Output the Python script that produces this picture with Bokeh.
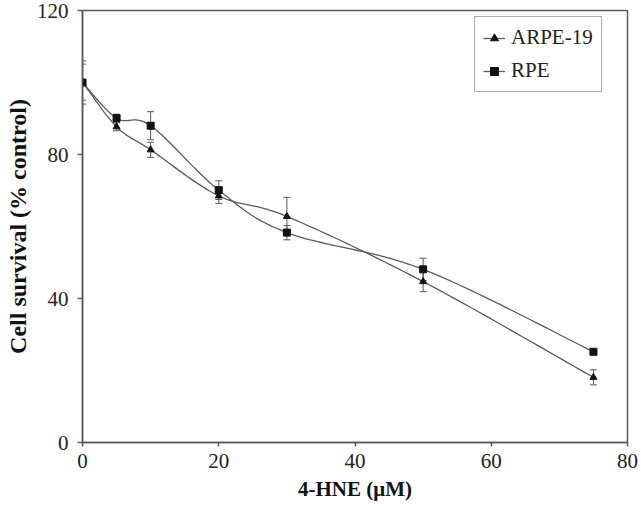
from bokeh.plotting import figure
from bokeh.models import (Legend, LegendItem, Whisker, ColumnDataSource, TeeHead,
                          FixedTicker, Range1d)
from bokeh.embed import file_html
from bokeh.resources import INLINE
import numpy as np

# ---- data ----
conc = [0, 5, 10, 20, 30, 50, 75]
arpe19 = [100.1, 87.7, 81.3, 68.5, 62.8, 44.7, 18.1]
arpe19_err = [5.0, 1.1, 2.1, 2.1, 5.3, 2.8, 2.1]
rpe = [100.0, 90.1, 88.0, 70.1, 58.3, 48.1, 25.2]
rpe_err = [6.0, 1.1, 3.9, 2.6, 2.0, 3.1, 0.3]
x_ticks = [0, 20, 40, 60, 80]
y_ticks = [0, 40, 80, 120]

FONT = "Liberation Serif"
LINE = "#5a5a5a"


def smooth(xs, ys, n=24):
    """Catmull-Rom style cubic Bezier through the data points (like a smoothed line)."""
    P = np.column_stack([xs, ys]).astype(float)
    out = [P[0]]
    for i in range(len(P) - 1):
        p0 = P[i - 1] if i > 0 else P[i]
        p1, p2 = P[i], P[i + 1]
        p3 = P[i + 2] if i + 2 < len(P) else P[i + 1]
        c1 = p1 + (p2 - p0) / 6.0
        c2 = p2 - (p3 - p1) / 6.0
        t = np.linspace(0, 1, n)[1:, None]
        seg = ((1 - t) ** 3) * p1 + 3 * ((1 - t) ** 2) * t * c1 + 3 * (1 - t) * t ** 2 * c2 + t ** 3 * p2
        out.extend(seg)
    out = np.array(out)
    return out[:, 0], out[:, 1]


p = figure(width=640, height=506, output_backend="svg", toolbar_location=None,
           x_range=Range1d(0, 80), y_range=Range1d(0, 120),
           min_border_left=82, min_border_right=13, min_border_top=10, min_border_bottom=64)

p.background_fill_color = "white"
p.border_fill_color = "white"
p.outline_line_color = LINE
p.outline_line_width = 1.5
p.grid.visible = False

for ax in (p.xaxis[0], p.yaxis[0]):
    ax.axis_line_color = LINE
    ax.axis_line_width = 1.5
    ax.major_tick_line_color = LINE
    ax.major_tick_line_width = 1.5
    ax.major_tick_in = 0
    ax.minor_tick_line_color = None
    ax.major_label_text_font = FONT
    ax.major_label_text_color = "#222222"
    ax.axis_label_text_font = FONT
    ax.axis_label_text_font_style = "bold"
    ax.axis_label_text_color = "#111111"

p.xaxis.ticker = FixedTicker(ticks=x_ticks)
p.yaxis.ticker = FixedTicker(ticks=y_ticks)
p.xaxis.major_label_text_font_size = "21px"
p.yaxis.major_label_text_font_size = "21px"
p.xaxis.major_tick_out = 4
p.yaxis.major_tick_out = 5
p.xaxis.major_label_standoff = 7
p.yaxis.major_label_standoff = 9
p.xaxis.axis_label = "4-HNE (\u03bcM)"
p.yaxis.axis_label = "Cell survival (% control)"
p.xaxis.axis_label_text_font_size = "21px"
p.yaxis.axis_label_text_font_size = "24px"
p.xaxis.axis_label_standoff = 6
p.yaxis.axis_label_standoff = 3

# error bars
for ys, es in ((arpe19, arpe19_err), (rpe, rpe_err)):
    src = ColumnDataSource(dict(x=conc,
                                lo=[y - e for y, e in zip(ys, es)],
                                hi=[y + e for y, e in zip(ys, es)]))
    w = Whisker(source=src, base="x", lower="lo", upper="hi", line_color=LINE, line_width=1,
                lower_head=TeeHead(size=7, line_color=LINE, line_width=1),
                upper_head=TeeHead(size=7, line_color=LINE, line_width=1))
    p.add_layout(w)

# smoothed lines
sx, sy = smooth(conc, arpe19)
l1 = p.line(sx, sy, line_color=LINE, line_width=1.3)
sx, sy = smooth(conc, rpe)
l2 = p.line(sx, sy, line_color=LINE, line_width=1.3)

m1 = p.scatter(conc, arpe19, marker="triangle", size=7, fill_color="#111111", line_color="#111111")
m2 = p.scatter(conc, rpe, marker="square", size=7, fill_color="#111111", line_color="#111111")

legend = Legend(items=[LegendItem(label="ARPE-19", renderers=[l1, m1]),
                       LegendItem(label="RPE", renderers=[l2, m2])],
                location=(392, 350))
legend.label_text_font = FONT
legend.label_text_font_size = "21px"
legend.label_text_color = "#222222"
legend.glyph_width = 22
legend.glyph_height = 20
legend.label_height = 20
legend.label_standoff = 6
legend.spacing = 8
legend.padding = 8
legend.margin = 0
legend.border_line_color = LINE
legend.border_line_width = 1.5
legend.background_fill_alpha = 1
p.add_layout(legend, "center")

open("out.html", "w").write(file_html(p, INLINE))
